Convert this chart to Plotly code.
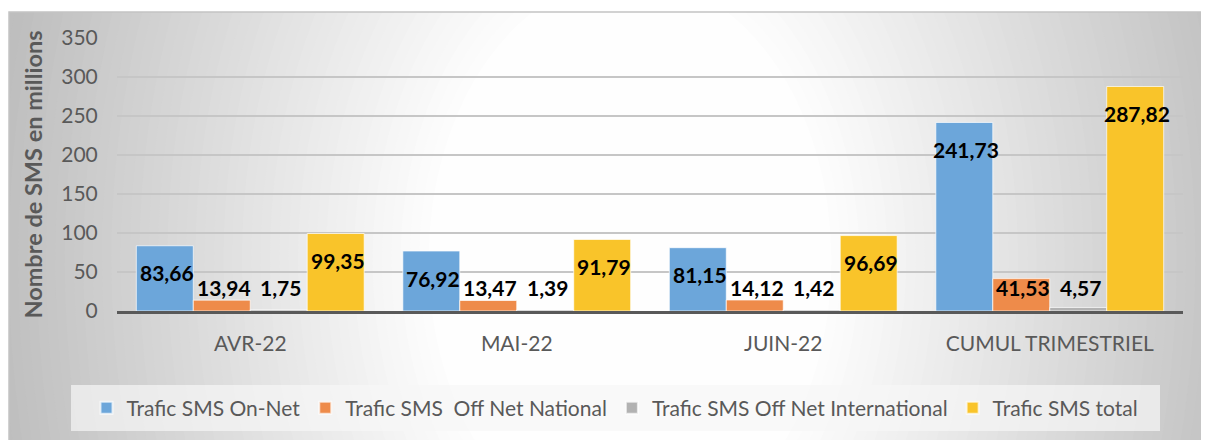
import plotly.graph_objects as go

categories = ["AVR-22", "MAI-22", "JUIN-22", "CUMUL TRIMESTRIEL"]
series_names = ["Trafic SMS On-Net", "Trafic SMS  Off Net National",
                "Trafic SMS Off Net International", "Trafic SMS total"]
on_net = [83.66, 76.92, 81.15, 241.73]
off_net_national = [13.94, 13.47, 14.12, 41.53]
off_net_international = [1.75, 1.39, 1.42, 4.57]
total = [99.35, 91.79, 96.69, 287.82]
y_ticks = [0, 50, 100, 150, 200, 250, 300, 350]

colors = ["#6CA6DA", "#EE8B4A", "#B2B2B2", "#F9C42A"]
series = [on_net, off_net_national, off_net_international, total]

# page body has an 8px margin; work in screen coordinates and convert
OFF = 8
W, H = 1209 - OFF, 440 - OFF
def fx(sx):
    return sx - OFF
def fy(sy):
    return sy - OFF

L = fx(117)
R = W - fx(1183)
T = fy(38)
B = H - fy(311)
pw, ph = W - L - R, H - T - B
BARGAP = 0.145

def px_to_paper_x(sx):
    return (fx(sx) - L) / pw
def px_to_paper_y(sy):
    return (H - B - fy(sy)) / ph

fig = go.Figure()
for name, vals, col in zip(series_names, series, colors):
    fig.add_trace(go.Bar(
        x=categories, y=vals, name=name,
        marker=dict(color=col, line=dict(color="rgba(255,255,255,0.7)", width=1)),
        hoverinfo="x+y+name",
    ))

# data labels
w = (1 - BARGAP) / 4
offsets = [-1.5 * w, -0.5 * w, 0.5 * w, 1.5 * w]
ann = []
for si, vals in enumerate(series):
    for ci, v in enumerate(vals):
        txt = f"{v:.2f}".replace(".", ",")
        if si in (0, 3):
            yv, ys = v, -27
        else:
            yv, ys = 0, 24
        ann.append(dict(x=ci + offsets[si], y=yv, xref="x", yref="y", text=txt,
                        showarrow=False, yshift=ys, xshift=2, yanchor="middle",
                        font=dict(family="Lato", size=21, color="#000000", weight="bold")))

# radial gradient background of the chart area, built from stacked ellipses
def grey(v):
    v = int(round(v))
    return f"rgb({v},{v},{v})"

CX, CY, RX, RY = 630, 260, 640, 900
EDGE, INNER = 190, 0.3
shapes = [dict(type="rect", xref="paper", yref="paper", x0=px_to_paper_x(0), x1=px_to_paper_x(1220),
               y0=px_to_paper_y(450), y1=px_to_paper_y(0), line=dict(width=0),
               fillcolor=grey(EDGE), layer="below")]
N = 48
for k in range(N):
    dk = 1.0 - k * (1.0 - INNER) / N
    t = (dk - INNER) / (1 - INNER)
    shapes.append(dict(type="circle", xref="paper", yref="paper",
                       x0=px_to_paper_x(CX - RX * dk), x1=px_to_paper_x(CX + RX * dk),
                       y0=px_to_paper_y(CY + RY * dk), y1=px_to_paper_y(CY - RY * dk),
                       line=dict(width=0), fillcolor=grey(255 - t * (255 - EDGE)),
                       layer="below"))
# white page outside the chart area (top and left strips)
shapes.append(dict(type="rect", xref="paper", yref="paper", x0=px_to_paper_x(0), x1=px_to_paper_x(1220),
                   y0=px_to_paper_y(12), y1=px_to_paper_y(-20), line=dict(width=0),
                   fillcolor="#ffffff", layer="below"))
shapes.append(dict(type="rect", xref="paper", yref="paper", x0=px_to_paper_x(-20), x1=px_to_paper_x(9),
                   y0=px_to_paper_y(450), y1=px_to_paper_y(0), line=dict(width=0),
                   fillcolor="#ffffff", layer="below"))
# chart area border
shapes.append(dict(type="rect", xref="paper", yref="paper", x0=px_to_paper_x(9), x1=px_to_paper_x(1215),
                   y0=px_to_paper_y(445), y1=px_to_paper_y(12), line=dict(color="#c4c4c4", width=1.5),
                   fillcolor="rgba(0,0,0,0)", layer="below"))
# legend box
shapes.append(dict(type="rect", xref="paper", yref="paper", x0=px_to_paper_x(71), x1=px_to_paper_x(1160),
                   y0=px_to_paper_y(431), y1=px_to_paper_y(385), line=dict(width=0),
                   fillcolor="rgba(246,246,246,0.7)", layer="below"))

fig.update_layout(
    width=W, height=H,
    margin=dict(l=L, r=R, t=T, b=B, autoexpand=False),
    paper_bgcolor="#ffffff", plot_bgcolor="rgba(0,0,0,0)",
    barmode="group", bargap=BARGAP, bargroupgap=0,
    font=dict(family="Lato", color="#595959"),
    separators=", ",
    annotations=ann, shapes=shapes,
    showlegend=True,
    legend=dict(orientation="h", x=px_to_paper_x(615), xanchor="center",
                y=px_to_paper_y(408), yanchor="middle",
                bgcolor="rgba(0,0,0,0)", font=dict(size=21, color="#595959"),
                itemsizing="constant", traceorder="normal"),
    xaxis=dict(showgrid=False, showline=True, linecolor="#595959", linewidth=3,
               ticks="outside", ticklen=12, tickcolor="rgba(0,0,0,0)",
               tickfont=dict(size=21, color="#595959"), fixedrange=True),
    yaxis=dict(range=[0, 350], tickvals=y_ticks, showgrid=True, gridcolor="#c6c6c6",
               gridwidth=1.5, zeroline=False, showline=False,
               ticks="outside", ticklen=14, tickcolor="rgba(0,0,0,0)",
               tickfont=dict(size=21, color="#595959"),
               title=dict(text="Nombre de SMS en millions", standoff=12,
                          font=dict(size=23.5, color="#595959", weight="bold")),
               fixedrange=True),
)

fig.write_html("out.html")
